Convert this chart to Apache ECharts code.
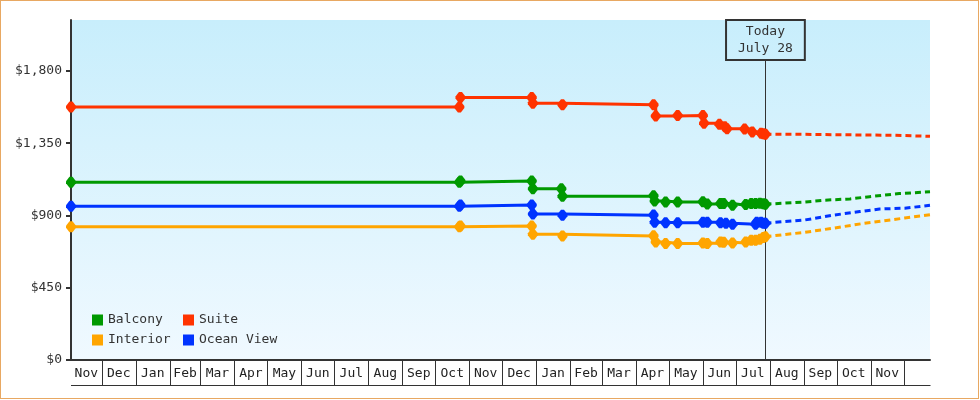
<!DOCTYPE html>
<html>
<head>
<meta charset="utf-8">
<script src="https://cdn.jsdelivr.net/npm/echarts@6/dist/echarts.min.js"></script>
<style>
  html, body { margin: 0; padding: 0; background: #fff; }
  #frame { position: absolute; left: 0; top: 0; width: 979px; height: 399px; border: 1px solid #e8a862; box-sizing: border-box; }
  #chart { position: absolute; left: 0; top: 0; width: 980px; height: 400px; }
</style>
</head>
<body>
<div id="frame"></div>
<div id="chart"></div>
<script>
// ---------------- data ----------------
const X_MIN = '2022-11-03';
const X_MAX = '2024-12-25';
const TODAY = '2024-07-28';
const TODAY_LABEL = 'Today\nJuly 28';
const TODAY_LINE_TOP = 1868;

const Y_TICKS = [0, 450, 900, 1350, 1800];
const Y_MAX = 2117;

const MONTH_LABELS = ['Nov','Dec','Jan','Feb','Mar','Apr','May','Jun','Jul','Aug','Sep','Oct',
                      'Nov','Dec','Jan','Feb','Mar','Apr','May','Jun','Jul','Aug','Sep','Oct','Nov',''];
const MONTH_STARTS = ['2022-11-01','2022-12-01','2023-01-01','2023-02-01','2023-03-01','2023-04-01',
                      '2023-05-01','2023-06-01','2023-07-01','2023-08-01','2023-09-01','2023-10-01',
                      '2023-11-01','2023-12-01','2024-01-01','2024-02-01','2024-03-01','2024-04-01',
                      '2024-05-01','2024-06-01','2024-07-01','2024-08-01','2024-09-01','2024-10-01',
                      '2024-11-01','2024-12-01'];

const SERIES_NAMES = ['Balcony', 'Suite', 'Interior', 'Ocean View'];

const balcony = [
  ['2022-11-03', 1107], ['2023-10-23', 1107], ['2023-10-24', 1114], ['2023-12-28', 1114],
  ['2023-12-29', 1066], ['2024-01-24', 1066], ['2024-01-25', 1020], ['2024-04-17', 1022],
  ['2024-04-18', 990], ['2024-04-28', 984], ['2024-05-09', 984], ['2024-06-01', 986],
  ['2024-06-05', 972], ['2024-06-17', 974], ['2024-06-20', 974], ['2024-06-28', 964],
  ['2024-07-10', 968], ['2024-07-15', 975], ['2024-07-19', 975], ['2024-07-23', 976],
  ['2024-07-26', 973], ['2024-07-28', 970]
];
const suite = [
  ['2022-11-03', 1575], ['2023-10-23', 1575], ['2023-10-24', 1634], ['2023-12-28', 1634],
  ['2023-12-29', 1599], ['2024-01-25', 1590], ['2024-04-17', 1590], ['2024-04-19', 1520],
  ['2024-05-09', 1522], ['2024-06-01', 1522], ['2024-06-02', 1474], ['2024-06-16', 1468],
  ['2024-06-21', 1453], ['2024-06-23', 1440], ['2024-07-09', 1438], ['2024-07-16', 1420],
  ['2024-07-24', 1412], ['2024-07-26', 1408], ['2024-07-28', 1406]
];
const interior = [
  ['2022-11-03', 829], ['2023-10-23', 829], ['2023-10-24', 835], ['2023-12-28', 835],
  ['2023-12-29', 783], ['2024-01-25', 772], ['2024-04-17', 774], ['2024-04-19', 735],
  ['2024-04-28', 726], ['2024-05-09', 726], ['2024-06-01', 729], ['2024-06-05', 726],
  ['2024-06-17', 735], ['2024-06-20', 733], ['2024-06-28', 729], ['2024-07-10', 735],
  ['2024-07-15', 745], ['2024-07-19', 745], ['2024-07-23', 752], ['2024-07-26', 763],
  ['2024-07-28', 768]
];
const oceanView = [
  ['2022-11-03', 958], ['2023-10-23', 958], ['2023-10-24', 965], ['2023-12-28', 965],
  ['2023-12-29', 909], ['2024-01-25', 901], ['2024-04-17', 903], ['2024-04-18', 858],
  ['2024-04-28', 855], ['2024-05-09', 855], ['2024-06-01', 857], ['2024-06-05', 857],
  ['2024-06-17', 855], ['2024-06-22', 851], ['2024-06-28', 845], ['2024-07-19', 845],
  ['2024-07-20', 858], ['2024-07-24', 858], ['2024-07-26', 851], ['2024-07-28', 852]
];

const balconyForecast = [
  ['2024-07-28', 970], ['2024-09-02', 984], ['2024-09-20', 995], ['2024-10-13', 1003],
  ['2024-10-31', 1017], ['2024-11-27', 1036], ['2024-12-25', 1048]
];
const suiteForecast = [
  ['2024-07-28', 1406], ['2024-09-01', 1405], ['2024-09-02', 1399], ['2024-11-23', 1399],
  ['2024-11-24', 1393], ['2024-12-25', 1393]
];
const interiorForecast = [
  ['2024-07-28', 768], ['2024-09-02', 795], ['2024-09-29', 822], ['2024-10-26', 851],
  ['2024-12-02', 884], ['2024-12-25', 905]
];
const oceanViewForecast = [
  ['2024-07-28', 852], ['2024-09-02', 872], ['2024-09-29', 903], ['2024-10-22', 924],
  ['2024-11-09', 940], ['2024-12-02', 945], ['2024-12-25', 963]
];

// ---------------- build ----------------
const ts = s => new Date(s + 'T00:00:00').getTime();
const toPts = arr => arr.map(p => [ts(p[0]), p[1]]);

const COLORS = { 'Balcony': '#009900', 'Suite': '#ff3300', 'Interior': '#ffa500', 'Ocean View': '#0033ff' };
const HIST = { 'Balcony': balcony, 'Suite': suite, 'Interior': interior, 'Ocean View': oceanView };
const FCST = { 'Balcony': balconyForecast, 'Suite': suiteForecast, 'Interior': interiorForecast, 'Ocean View': oceanViewForecast };

const FONT = 'DejaVu Sans Mono';
const INK = '#333';
const MARKER = 'path://M3.5,0 L6.5,0 L10,4.5 L10,6.5 L6.5,11 L3.5,11 L0,6.5 L0,4.5 Z';
const xMin = ts(X_MIN), xMax = ts(X_MAX);

const series = [];
SERIES_NAMES.forEach((name, idx) => {
  const s = {
    name: name,
    type: 'line',
    step: 'end',
    data: toPts(HIST[name]),
    color: COLORS[name],
    symbol: MARKER,
    symbolSize: [10, 11],
    showAllSymbol: true,
    lineStyle: { width: 3, color: COLORS[name] },
    itemStyle: { color: COLORS[name] },
    silent: true,
    z: 3
  };
  if (idx === 0) {
    s.markLine = {
      silent: true,
      symbol: ['none', 'none'],
      lineStyle: { color: INK, width: 1, type: 'solid' },
      label: {
        show: true, position: 'end', distance: 0,
        formatter: () => TODAY_LABEL,
        fontFamily: FONT, fontSize: 13, color: INK, lineHeight: 17,
        padding: [3, 12, 3, 12], borderColor: INK, borderWidth: 1,
        backgroundColor: 'transparent'
      },
      data: [[{ coord: [ts(TODAY), 0] }, { coord: [ts(TODAY), TODAY_LINE_TOP] }]],
      z: 2
    };
  }
  series.push(s);
});
SERIES_NAMES.forEach(name => {
  series.push({
    name: name,
    type: 'line',
    data: toPts(FCST[name]),
    color: COLORS[name],
    symbol: 'none',
    lineStyle: { width: 3, color: COLORS[name], type: [6, 4] },
    silent: true,
    z: 3
  });
});

// month boxes under the time axis
series.push({
  name: 'months',
  type: 'custom',
  silent: true,
  clip: false,
  z: 1,
  data: MONTH_STARTS.map(d => [ts(d), 0]),
  encode: { x: 0, y: 1 },
  renderItem: function (params, api) {
    const i = params.dataIndex;
    const start = Math.max(api.value(0), xMin);
    const end = i + 1 < MONTH_STARTS.length ? ts(MONTH_STARTS[i + 1]) : xMax;
    const p0 = api.coord([start, 0]);
    const p1 = api.coord([end, 0]);
    const x0 = Math.round(p0[0]) + 0.5;
    const x1 = Math.round(p1[0]) + 0.5;
    const y0 = Math.round(p0[1]);
    const yb = y0 + 25.5;
    const children = [];
    if (i > 0) {
      children.push({ type: 'line', shape: { x1: x0, y1: y0, x2: x0, y2: yb }, style: { stroke: INK, lineWidth: 1 } });
    }
    children.push({ type: 'line', shape: { x1: Math.round(p0[0]), y1: yb, x2: x1, y2: yb }, style: { stroke: INK, lineWidth: 1 } });
    if (MONTH_LABELS[i]) {
      children.push({
        type: 'text',
        style: {
          text: MONTH_LABELS[i], x: (p0[0] + p1[0]) / 2, y: y0 + 13.5,
          align: 'center', verticalAlign: 'middle',
          font: '13px "' + FONT + '"', fill: '#222'
        }
      });
    }
    return { type: 'group', children: children };
  }
});

const legendBase = {
  orient: 'vertical', icon: 'rect', itemWidth: 11, itemHeight: 11, itemGap: 6,
  top: 313, padding: 0, selectedMode: false,
  textStyle: { fontFamily: FONT, fontSize: 13, color: INK, lineHeight: 14 }
};

const option = {
  animation: false,
  backgroundColor: 'transparent',
  grid: {
    left: 71, right: 50, top: 20, bottom: 40, show: true, borderWidth: 0,
    backgroundColor: new echarts.graphic.LinearGradient(0, 0, 0, 1, [
      { offset: 0, color: '#c8eefc' }, { offset: 1, color: '#f0f9ff' }
    ])
  },
  legend: [
    Object.assign({}, legendBase, { left: 92, data: ['Balcony', 'Interior'] }),
    Object.assign({}, legendBase, { left: 183, data: ['Suite', 'Ocean View'] })
  ],
  xAxis: {
    type: 'time', min: xMin, max: xMax,
    axisLine: { show: true, lineStyle: { color: INK, width: 2 } },
    axisTick: { show: false }, axisLabel: { show: false }, splitLine: { show: false }
  },
  yAxis: {
    type: 'value', min: 0, max: Y_MAX,
    axisLine: { show: true, lineStyle: { color: INK, width: 2 } },
    axisTick: { show: true, length: 5, customValues: Y_TICKS, lineStyle: { color: INK, width: 2 } },
    axisLabel: {
      customValues: Y_TICKS, margin: 9, fontFamily: FONT, fontSize: 13, color: INK,
      formatter: v => '$' + Number(v).toLocaleString('en-US')
    },
    splitLine: { show: false }
  },
  series: series
};

const chart = echarts.init(document.getElementById('chart'), null, { renderer: 'canvas' });
chart.setOption(option);
</script>
</body>
</html>
